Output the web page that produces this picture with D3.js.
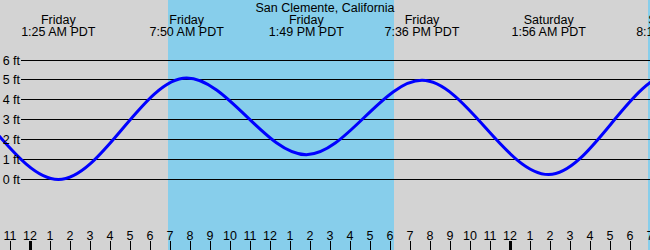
<!DOCTYPE html>
<html><head><meta charset="utf-8">
<script src="https://cdn.jsdelivr.net/npm/d3@7"></script>
<style>body{margin:0;background:#fff}svg{display:block}text{font-family:"Liberation Sans",Arial,sans-serif;font-size:12.5px;fill:#000}</style>
</head><body><div id="chart"></div>
<script>
// hours measured from Friday 00:00 PDT
const title = "San Clemente, California";
const extremeHours = [-11.2, -5.0, 1.417, 7.833, 13.817, 19.6, 25.933, 32.167, 38.5];
const extremeFeet  = [1.0, 4.9, -0.05, 5.07, 1.2, 4.95, 0.2, 5.3, 1.0];
const extremeDays  = ["Thursday", "Thursday", "Friday", "Friday", "Friday", "Friday", "Saturday", "Saturday", "Saturday"];
const extremeTimes = ["12:48 PM PDT", "7:00 PM PDT", "1:25 AM PDT", "7:50 AM PDT", "1:49 PM PDT", "7:36 PM PDT", "1:56 AM PDT", "8:10 AM PDT", "2:30 PM PDT"];
const daylightStart = [-17.1, 6.9, 30.9];
const daylightEnd   = [-5.8, 18.2, 42.2];
const hourTicks = d3.range(-1, 32);
const footTicks = [0, 1, 2, 3, 4, 5, 6];

const W = 650, H = 250;
const x = d3.scaleLinear().domain([-1.5, 31]).range([0, W]);
const y = d3.scaleLinear().domain([0, 6]).range([178.5, 59.5]);

const svg = d3.select("#chart").append("svg").attr("width", W).attr("height", H);
svg.append("rect").attr("width", W).attr("height", H).attr("fill", "#d3d3d3");
svg.append("defs").append("clipPath").attr("id", "clip").append("rect").attr("width", W).attr("height", H);
const g = svg.append("g").attr("clip-path", "url(#clip)");

g.selectAll("rect.day").data(daylightStart).join("rect").attr("class", "day")
  .attr("x", (d) => x(d)).attr("y", 0)
  .attr("width", (d, i) => x(daylightEnd[i]) - x(d)).attr("height", H)
  .attr("fill", "#87ceeb");

g.selectAll("line.grid").data(footTicks).join("line").attr("class", "grid")
  .attr("x1", 21).attr("x2", W).attr("y1", (d) => Math.round(y(d)) + 0.5).attr("y2", (d) => Math.round(y(d)) + 0.5)
  .attr("stroke", "#000").attr("stroke-width", 1);

svg.selectAll("text.ft").data(footTicks).join("text").attr("class", "ft")
  .attr("x", 20).attr("y", (d) => Math.round(y(d)) + 5).attr("text-anchor", "end")
  .text((d) => d + " ft");

const pts = extremeHours.map((h, i) => [h, extremeFeet[i]]);
const line = d3.line().x((d) => x(d[0])).y((d) => y(d[1])).curve(d3.curveMonotoneX);
g.append("path").attr("d", line(pts)).attr("fill", "none").attr("stroke", "#0000ff").attr("stroke-width", 3);

// top labels (only extremes whose label reaches into the picture)
const shown = extremeHours.map((h, i) => i).filter((i) => x(extremeHours[i]) > 0 && x(extremeHours[i]) < W + 35);
const lab = g.selectAll("g.lab").data(shown).join("g").attr("class", "lab")
  .attr("transform", (i) => `translate(${x(extremeHours[i])},0)`);
lab.append("text").attr("y", 24).attr("text-anchor", "middle").text((i) => extremeDays[i]);
lab.append("text").attr("y", 36).attr("text-anchor", "middle").text((i) => extremeTimes[i]);

svg.append("text").attr("x", 325).attr("y", 11.5).attr("text-anchor", "middle").text(title);

// hour axis
const fmt = (h) => { const m = ((h % 12) + 12) % 12; return m === 0 ? "12" : String(m); };
g.selectAll("line.tick").data(hourTicks).join("line").attr("class", "tick")
  .attr("x1", (d) => Math.round(x(d)) + 0.5).attr("x2", (d) => Math.round(x(d)) + 0.5)
  .attr("y1", 241).attr("y2", H)
  .attr("stroke", "#000").attr("stroke-width", (d) => (((d % 24) + 24) % 24 === 0 ? 3 : 1));
g.selectAll("text.hr").data(hourTicks).join("text").attr("class", "hr")
  .attr("x", (d) => x(d)).attr("y", 239.5).attr("text-anchor", "middle").text(fmt);
</script></body></html>
